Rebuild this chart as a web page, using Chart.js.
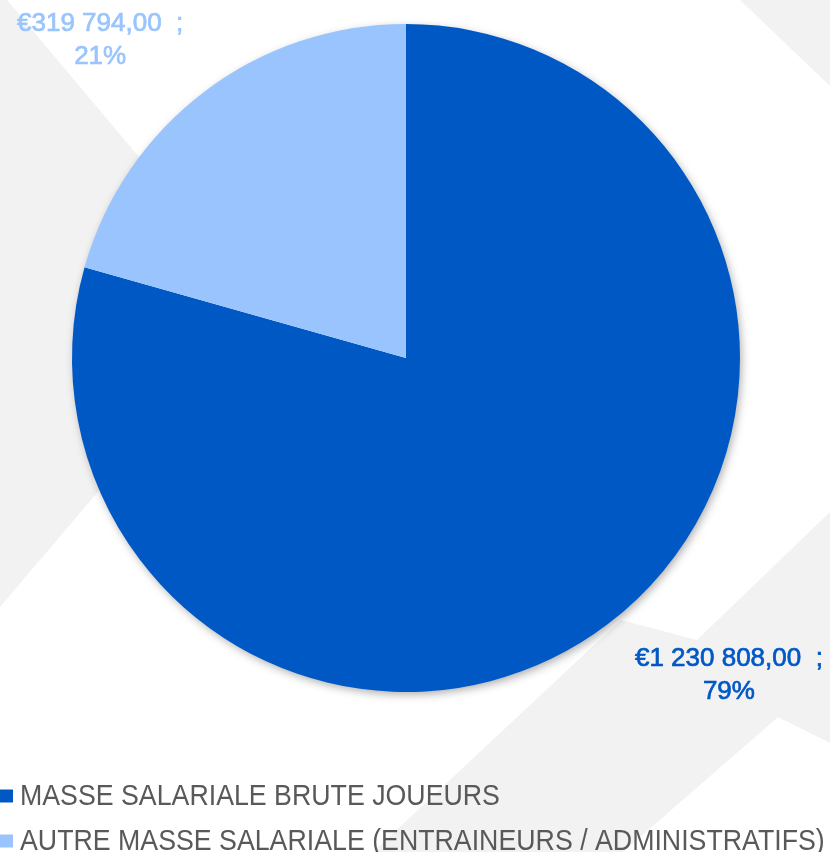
<!DOCTYPE html>
<html lang="fr">
<head>
<meta charset="utf-8">
<title>Masse salariale</title>
<script src="https://cdn.jsdelivr.net/npm/chart.js@4.4.0/dist/chart.umd.min.js"></script>
<style>
    html, body { margin: 0; padding: 0; background: #ffffff; }
    #wrap { position: relative; width: 830px; height: 852px; }
</style>
</head>
<body>
<div id="wrap"><canvas id="salary-chart"></canvas></div>
<script>
// données du graphique
const categories = [
    'MASSE SALARIALE BRUTE JOUEURS',
    'AUTRE MASSE SALARIALE (ENTRAINEURS / ADMINISTRATIFS)'
];
const amounts = [1230808, 319794];
const sliceColors = ['#0058C5', '#99C4FD'];

// placement des étiquettes autour du camembert (rayon relatif, décalage angulaire en degrés)
const labelPlacement = [
    { k: 1.355, turn: -8.4 },
    { k: 1.32, turn: -6.8 }
];

const textGrey = '#595959';
const bgGrey = '#f2f2f2';

function formatEuro(v) {
    const s = Math.round(v).toString().replace(/\B(?=(\d{3})+(?!\d))/g, ' ');
    return '€' + s + ',00  ;';
}

// formes grises du fond
const backdrop = {
    id: 'backdrop',
    beforeDraw(chart) {
        const ctx = chart.ctx;
        const shapes = [
            [[0, 0], [7, 0], [260, 301], [0, 607]],
            [[740, 0], [830, 0], [830, 86]],
            [[373, 852], [621, 620], [697, 640], [830, 512], [830, 743], [778, 717], [623, 852]]
        ];
        ctx.save();
        ctx.fillStyle = '#ffffff';
        ctx.fillRect(0, 0, chart.width, chart.height);
        ctx.fillStyle = bgGrey;
        shapes.forEach(pts => {
            ctx.beginPath();
            pts.forEach((p, i) => i ? ctx.lineTo(p[0], p[1]) : ctx.moveTo(p[0], p[1]));
            ctx.closePath();
            ctx.fill();
        });
        ctx.restore();
    }
};

// ombre portée sous le disque
const pieShadow = {
    id: 'pieShadow',
    beforeDatasetsDraw(chart) {
        const arc = chart.getDatasetMeta(0).data[0];
        if (!arc) return;
        const ctx = chart.ctx;
        ctx.save();
        ctx.shadowColor = 'rgba(0, 0, 0, 0.35)';
        ctx.shadowBlur = 10;
        ctx.shadowOffsetX = 2;
        ctx.shadowOffsetY = 3;
        ctx.fillStyle = '#ffffff';
        ctx.beginPath();
        ctx.arc(arc.x, arc.y, arc.outerRadius - 1, 0, Math.PI * 2);
        ctx.fill();
        ctx.restore();
    }
};

// étiquettes valeur ; pourcentage
const sliceLabels = {
    id: 'sliceLabels',
    afterDatasetsDraw(chart) {
        const ctx = chart.ctx;
        const data = chart.data.datasets[0].data;
        const total = data.reduce((a, b) => a + b, 0);
        ctx.save();
        ctx.font = '26px "Liberation Sans", Arial, sans-serif';
        ctx.textAlign = 'center';
        ctx.textBaseline = 'middle';
        ctx.lineWidth = 0.7;
        chart.getDatasetMeta(0).data.forEach((arc, i) => {
            const p = arc.getProps(['x', 'y', 'startAngle', 'endAngle', 'outerRadius'], true);
            const place = labelPlacement[i];
            const a = (p.startAngle + p.endAngle) / 2 + place.turn * Math.PI / 180;
            const cx = p.x + Math.cos(a) * p.outerRadius * place.k;
            const cy = p.y + Math.sin(a) * p.outerRadius * place.k;
            const l1 = formatEuro(data[i]);
            const l2 = Math.round(data[i] / total * 100) + '%';
            ctx.fillStyle = sliceColors[i];
            ctx.strokeStyle = sliceColors[i];
            ctx.fillText(l1, cx, cy - 16.5);
            ctx.strokeText(l1, cx, cy - 16.5);
            ctx.fillText(l2, cx, cy + 16.5);
            ctx.strokeText(l2, cx, cy + 16.5);
        });
        ctx.restore();
    }
};

// légende en bas, à gauche
const bottomLegend = {
    id: 'bottomLegend',
    afterDraw(chart) {
        const ctx = chart.ctx;
        const top = chart.chartArea.bottom + 104;
        ctx.save();
        ctx.font = '29px "Liberation Sans", Arial, sans-serif';
        ctx.textBaseline = 'middle';
        chart.data.labels.forEach((label, i) => {
            const y = top + i * 45;
            ctx.fillStyle = sliceColors[i];
            ctx.fillRect(0, y - 6.5, 13, 13);
            ctx.save();
            ctx.translate(20, y);
            ctx.scale(0.922, 1);
            ctx.fillStyle = textGrey;
            ctx.fillText(label, 0, 1);
            ctx.restore();
        });
        ctx.restore();
    }
};

const canvas = document.getElementById('salary-chart');
new Chart(canvas, {
    type: 'pie',
    data: {
        labels: categories,
        datasets: [{
            data: amounts,
            backgroundColor: sliceColors,
            borderWidth: 0,
            hoverOffset: 0
        }]
    },
    options: {
        responsive: true,
        maintainAspectRatio: false,
        animation: false,
        events: [],
        layout: {
            padding: { top: 24, left: 0, right: 18, bottom: 160 }
        },
        plugins: {
            legend: { display: false },
            tooltip: { enabled: false },
            title: { display: false }
        }
    },
    plugins: [backdrop, pieShadow, sliceLabels, bottomLegend]
});
</script>
</body>
</html>
